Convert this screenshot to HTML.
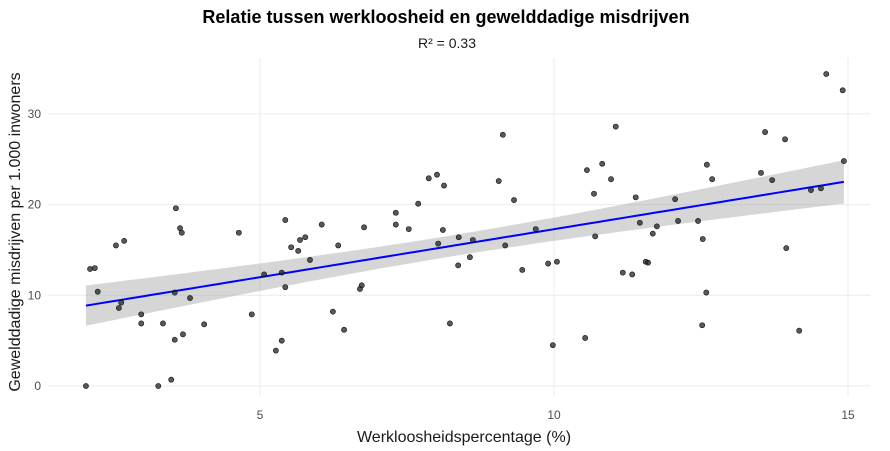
<!DOCTYPE html>
<html><head><meta charset="utf-8"><style>
body{margin:0;background:#fff;font-family:"Liberation Sans",sans-serif}
svg{display:block}
</style></head><body>
<svg id="chart" width="890" height="451">
<text x="446" y="23" text-anchor="middle" font-size="18" font-weight="bold" fill="#000">Relatie tussen werkloosheid en gewelddadige misdrijven</text>
<text x="447" y="48" text-anchor="middle" font-size="14" fill="#1a1a1a">R² = 0.33</text>
<text x="464" y="442" text-anchor="middle" font-size="16" fill="#1a1a1a">Werkloosheidspercentage (%)</text>
<text transform="translate(20,232) rotate(-90)" text-anchor="middle" font-size="16" fill="#1a1a1a">Gewelddadige misdrijven per 1.000 inwoners</text>
<g id="grid"></g><g id="band"></g><g id="pts"></g><g id="axes"></g>
</svg>
<script>
const unemployment=[2.04,2.11,2.19,2.24,2.55,2.69,2.60,2.64,2.98,2.98,3.35,3.57,3.64,3.67,3.55,3.81,3.55,3.69,4.05,3.27,3.49,4.64,4.86,5.07,5.37,5.43,5.43,5.27,5.37,5.53,5.65,5.68,5.77,5.85,6.05,6.33,6.24,6.43,6.77,6.70,6.73,7.31,7.31,7.53,7.69,7.87,8.01,8.13,8.11,8.03,8.38,8.37,8.23,8.62,8.57,9.06,9.13,9.32,9.17,9.46,9.69,9.90,10.05,9.98,10.53,10.56,10.68,10.70,10.82,10.97,11.05,11.17,11.33,11.39,11.46,11.56,11.60,11.68,11.75,12.06,12.11,12.45,12.53,12.52,12.59,12.60,12.69,13.52,13.59,13.71,13.93,13.95,14.17,14.37,14.54,14.63,14.91,14.93];
const crime=[0,12.9,13.0,10.4,15.5,16.0,8.6,9.2,7.9,6.9,6.9,19.6,17.4,16.9,10.3,9.7,5.1,5.7,6.8,0,0.7,16.9,7.9,12.3,12.5,18.3,10.9,3.9,5.0,15.3,14.9,16.1,16.4,13.9,17.8,15.5,8.2,6.2,17.5,10.7,11.1,19.1,17.8,17.3,20.1,22.9,23.3,22.1,17.2,15.7,16.4,13.3,6.9,16.1,14.2,22.6,27.7,20.5,15.5,12.8,17.3,13.5,13.7,4.5,5.3,23.8,21.2,16.5,24.5,22.8,28.6,12.5,12.3,20.8,18.0,13.7,13.6,16.8,17.6,20.6,18.2,18.2,16.2,6.7,10.3,24.4,22.8,23.5,28.0,22.7,27.2,15.2,6.1,21.6,21.8,34.4,32.6,24.8];
const xTicks=[5,10,15];
const yTicks=[0,10,20,30];
const NS="http://www.w3.org/2000/svg";
const sx=v=>260+(v-5)*58.8, sy=v=>386-v*9.07;
function mk(t,a,p){const e=document.createElementNS(NS,t);for(const k in a)e.setAttribute(k,a[k]);document.getElementById(p).appendChild(e);return e;}
xTicks.forEach(t=>{
 const l=mk('line',{x1:sx(t),x2:sx(t),y1:58,y2:396,stroke:'#ebebeb','stroke-width':1},'grid');
 
 
 const tx=mk('text',{x:sx(t),y:419,'text-anchor':'middle','font-size':12,fill:'#4d4d4d'},'axes');tx.textContent=t;
 
 
});
yTicks.forEach(t=>{
 const l=mk('line',{x1:48,x2:870,y1:sy(t),y2:sy(t),stroke:'#ebebeb','stroke-width':1},'grid');
 
 
 const tx=mk('text',{x:41,y:sy(t)+4,'text-anchor':'end','font-size':12,fill:'#4d4d4d'},'axes');tx.textContent=t;
 
 
});
const n=unemployment.length;
const mx=unemployment.reduce((a,b)=>a+b)/n, my=crime.reduce((a,b)=>a+b)/n;
let sxx=0,sxy=0;for(let i=0;i<n;i++){sxx+=(unemployment[i]-mx)**2;sxy+=(unemployment[i]-mx)*(crime[i]-my);}
const b=sxy/sxx,a0=my-b*mx;
let sse=0;for(let i=0;i<n;i++)sse+=(crime[i]-a0-b*unemployment[i])**2;
const s=Math.sqrt(sse/(n-2));
const xmin=Math.min(...unemployment),xmax=Math.max(...unemployment);
const up=[],lo=[],ln=[];
for(let k=0;k<=80;k++){const x=xmin+(xmax-xmin)*k/80;const yh=a0+b*x;const se=1.985*s*Math.sqrt(1/n+(x-mx)**2/sxx);
 up.push(sx(x)+','+sy(yh+se));lo.unshift(sx(x)+','+sy(yh-se));ln.push(sx(x)+','+sy(yh));}
const band=mk('polygon',{points:up.concat(lo).join(' '),fill:'#999','fill-opacity':0.4},'band');


const line=mk('polyline',{points:ln.join(' '),fill:'none',stroke:'#0000ff','stroke-width':2},'band');


for(let i=0;i<n;i++){
 const c=mk('circle',{cx:sx(unemployment[i]),cy:sy(crime[i]),r:2.6,fill:'#222','fill-opacity':0.75,stroke:'#111','stroke-width':0.6},'pts');
 
 
}
</script>
</body></html>
